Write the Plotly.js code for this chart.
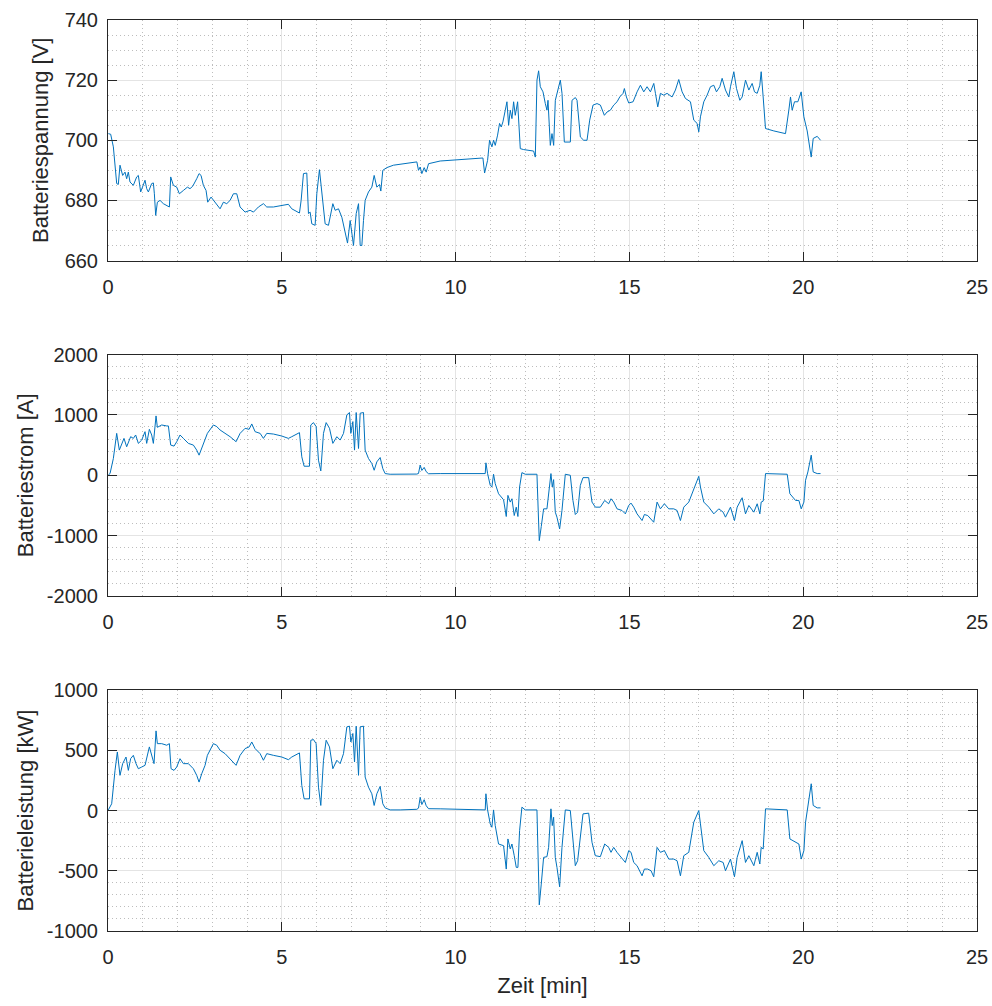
<!DOCTYPE html>
<html>
<head>
<meta charset="utf-8">
<script src="https://cdn.plot.ly/plotly-3.0.1.min.js"></script>
<style>
html,body{margin:0;padding:0;background:#fff;}
#chart{width:992px;height:1006px;}
</style>
</head>
<body>
<div id="chart"></div>
<script>
// ---------- Data ----------
const tV = [0.01,0.077,0.154,0.25,0.297,0.345,0.422,0.49,0.537,0.585,0.633,0.729,0.825,0.873,0.94,1.017,1.065,1.113,1.161,1.257,1.305,1.334,1.372,1.42,1.497,1.593,1.689,1.766,1.804,1.881,1.977,2.053,2.169,2.284,2.36,2.437,2.552,2.62,2.677,2.744,2.821,2.869,2.965,3.08,3.224,3.32,3.416,3.512,3.608,3.704,3.8,3.944,4.088,4.184,4.327,4.471,4.567,4.759,4.951,5.19,5.287,5.508,5.556,5.623,5.719,5.767,5.815,5.863,5.959,6.007,6.083,6.151,6.247,6.343,6.391,6.468,6.535,6.631,6.727,6.823,6.89,6.967,7.015,7.063,7.14,7.207,7.255,7.303,7.35,7.398,7.494,7.59,7.657,7.734,7.81,7.849,7.906,8.021,8.213,8.386,8.885,8.933,8.981,9.029,9.096,9.154,9.222,9.557,10.325,10.786,10.834,10.92,10.977,11.045,11.093,11.141,11.208,11.265,11.313,11.361,11.429,11.477,11.525,11.573,11.621,11.669,11.717,11.784,11.861,11.957,12.245,12.293,12.341,12.389,12.437,12.514,12.581,12.629,12.658,12.725,12.773,12.821,12.869,12.965,13.013,13.061,13.128,13.301,13.349,13.445,13.493,13.589,13.685,13.781,13.858,13.954,14.069,14.165,14.28,14.357,14.453,14.549,14.645,14.722,14.818,14.856,14.914,14.981,15.106,15.221,15.317,15.413,15.509,15.605,15.701,15.749,15.816,15.892,15.988,16.084,16.228,16.324,16.42,16.516,16.612,16.756,16.852,16.948,16.996,17.044,17.14,17.236,17.332,17.428,17.505,17.601,17.668,17.764,17.86,17.908,18.004,18.081,18.177,18.244,18.34,18.436,18.532,18.599,18.676,18.752,18.791,18.848,18.915,19.155,19.491,19.587,19.635,19.683,19.75,19.846,19.942,20.019,20.115,20.23,20.288,20.403,20.499];
const voltage = [702.2,702.0,697.8,685.6,685.3,691.7,688.3,689.4,687.2,689.4,686.1,685.0,687.8,688.3,682.8,685.6,686.7,683.9,682.8,685.6,685.8,682.2,675.0,679.4,680.0,678.9,678.3,677.8,687.8,685.0,684.4,682.2,683.3,684.4,683.9,684.7,687.2,688.9,688.3,685.0,683.3,679.4,681.1,679.4,677.2,679.4,678.9,680.0,682.2,682.2,677.8,676.1,676.7,676.1,677.8,678.9,677.8,677.8,678.1,678.7,677.2,675.8,680.0,688.9,689.1,675.6,676.1,672.2,671.7,682.2,690.2,682.2,672.2,671.7,674.4,678.9,676.7,677.2,674.4,668.9,665.8,673.3,668.9,665.0,675.6,678.9,665.0,665.0,673.3,680.0,682.8,684.4,688.3,684.4,685.3,683.1,690.0,690.9,691.7,692.0,692.8,690.0,691.1,688.9,690.9,689.4,692.2,693.1,693.7,694.1,689.1,693.3,700.0,697.8,700.0,698.3,701.7,705.6,704.4,706.1,710.0,712.8,705.0,710.0,707.2,712.8,708.3,712.8,697.2,696.9,696.4,694.4,720.0,723.1,717.8,716.1,712.2,710.0,713.3,698.3,702.2,698.3,713.3,717.8,720.0,715.6,699.4,699.4,713.3,714.2,713.3,701.1,700.0,700.0,706.7,711.7,712.2,711.7,708.3,709.4,710.0,711.7,712.8,714.4,715.6,717.2,714.4,712.4,712.8,716.1,718.3,716.1,717.8,716.1,718.9,715.6,711.1,715.6,715.0,715.6,714.4,716.7,720.2,716.1,713.9,712.8,706.7,705.6,702.8,707.8,712.8,715.0,717.8,718.3,716.1,717.8,720.6,716.7,714.4,717.8,722.8,717.2,713.3,714.4,720.0,716.7,718.9,716.1,715.6,718.3,722.8,714.4,703.9,703.1,702.2,710.0,714.4,710.0,712.8,712.8,716.1,707.8,703.1,694.4,700.6,701.3,700.0];

const tI = [0.01,0.058,0.154,0.25,0.326,0.393,0.46,0.537,0.585,0.652,0.729,0.796,0.873,0.969,1.065,1.113,1.19,1.257,1.305,1.382,1.42,1.545,1.689,1.737,1.804,1.9,1.977,2.072,2.169,2.312,2.456,2.552,2.62,2.696,2.792,2.859,3.032,3.128,3.224,3.368,3.512,3.685,3.8,3.944,4.059,4.136,4.232,4.376,4.471,4.567,4.759,4.999,5.19,5.287,5.508,5.575,5.642,5.796,5.834,5.911,5.988,6.055,6.122,6.199,6.276,6.372,6.468,6.583,6.679,6.775,6.871,6.947,6.986,7.044,7.092,7.14,7.207,7.255,7.35,7.398,7.494,7.59,7.657,7.734,7.83,7.906,7.973,8.117,8.405,8.885,8.933,8.981,9.029,9.096,9.154,9.222,9.557,10.852,10.872,10.92,10.996,11.044,11.092,11.14,11.236,11.38,11.457,11.505,11.572,11.62,11.687,11.745,11.793,11.841,11.908,12.004,12.34,12.388,12.407,12.464,12.532,12.628,12.676,12.743,12.781,12.82,12.868,12.916,12.993,13.06,13.156,13.3,13.376,13.444,13.511,13.588,13.665,13.828,13.924,14.02,14.164,14.289,14.404,14.471,14.548,14.644,14.788,14.884,14.98,15.047,15.124,15.22,15.364,15.431,15.527,15.623,15.7,15.796,15.892,16.007,16.132,16.276,16.372,16.468,16.564,16.708,16.852,16.996,17.044,17.14,17.284,17.428,17.572,17.697,17.764,17.908,18.023,18.1,18.244,18.34,18.436,18.58,18.676,18.753,18.791,18.849,18.916,19.54,19.617,19.78,19.876,19.943,20.02,20.068,20.135,20.231,20.288,20.403,20.499];
const current = [5,28,278,694,417,528,611,472,556,639,611,667,528,583,722,528,761,667,528,983,794,833,817,817,500,483,556,667,611,528,500,417,333,444,583,694,833,806,750,694,639,556,694,778,761,850,722,694,611,694,683,650,611,639,706,306,150,150,833,872,806,250,72,694,872,778,528,639,583,694,1000,1039,694,889,417,1039,444,1028,1039,417,278,194,83,222,294,111,28,17,17,20,30,170,80,130,60,25,28,28,206,28,-167,-194,17,-139,-306,-406,-683,-333,-444,-389,-667,-528,-683,-194,44,17,17,-872,-1083,-850,-556,-556,-306,28,-194,-72,-611,-694,-889,-583,17,0,-417,-650,-611,-167,-39,-39,-444,-528,-528,-417,-472,-389,-444,-556,-583,-639,-500,-461,-528,-639,-750,-650,-667,-722,-778,-444,-556,-472,-556,-556,-583,-750,-528,-444,-222,-17,-194,-444,-528,-639,-556,-611,-694,-528,-750,-528,-372,-639,-500,-611,-472,-639,-444,-428,28,17,-306,-417,-417,-556,-444,-83,55,333,55,28,28];

const tP = [0.01,0.106,0.202,0.269,0.345,0.422,0.518,0.585,0.652,0.729,0.806,0.873,0.969,1.065,1.19,1.257,1.324,1.382,1.42,1.545,1.689,1.766,1.814,1.9,1.977,2.072,2.169,2.312,2.456,2.552,2.62,2.696,2.792,2.859,3.032,3.128,3.224,3.368,3.512,3.685,3.8,3.944,4.059,4.136,4.232,4.376,4.471,4.567,4.759,4.999,5.19,5.287,5.508,5.575,5.642,5.796,5.834,5.911,5.988,6.055,6.122,6.199,6.276,6.372,6.468,6.583,6.679,6.775,6.871,6.947,6.986,7.044,7.092,7.14,7.207,7.255,7.35,7.398,7.494,7.59,7.657,7.734,7.83,7.906,7.973,8.117,8.405,8.885,8.933,8.981,9.029,9.096,9.154,9.222,9.557,10.852,10.872,10.92,10.996,11.044,11.092,11.14,11.236,11.38,11.457,11.505,11.572,11.62,11.687,11.745,11.793,11.841,11.908,12.004,12.34,12.388,12.407,12.464,12.532,12.628,12.676,12.743,12.781,12.82,12.868,12.916,12.993,13.06,13.156,13.3,13.376,13.444,13.511,13.588,13.665,13.828,13.924,14.02,14.164,14.289,14.404,14.471,14.548,14.644,14.788,14.884,14.98,15.047,15.124,15.22,15.364,15.431,15.527,15.623,15.7,15.796,15.892,16.007,16.132,16.276,16.372,16.468,16.564,16.708,16.852,16.996,17.044,17.14,17.284,17.428,17.572,17.697,17.764,17.908,18.023,18.1,18.244,18.34,18.436,18.58,18.676,18.753,18.791,18.849,18.916,19.54,19.617,19.78,19.876,19.943,20.02,20.068,20.135,20.231,20.288,20.403,20.499];
const power = [5,56,333,486,292,389,444,333,431,458,389,347,361,375,528,458,389,661,555,555,542,555,347,333,361,430,389,389,347,292,236,305,375,458,555,542,500,472,430,375,458,514,528,569,514,472,417,472,458,444,422,444,478,208,97,97,583,589,555,194,42,417,583,528,347,417,389,472,694,700,569,639,403,700,292,694,700,278,194,139,42,139,200,56,22,5,5,10,20,110,50,90,40,15,14,5,139,5,-111,-139,5,-125,-278,-292,-486,-236,-319,-278,-375,-472,-472,-167,28,5,5,-611,-783,-611,-389,-383,-306,14,-125,-56,-389,-472,-633,-306,5,0,-222,-458,-417,-194,-28,-22,-264,-375,-383,-278,-306,-347,-306,-347,-403,-431,-333,-347,-431,-458,-542,-486,-486,-500,-550,-306,-347,-333,-403,-403,-417,-542,-375,-347,-97,0,-111,-333,-389,-458,-417,-431,-500,-403,-550,-389,-250,-431,-375,-458,-347,-444,-306,-319,14,5,-236,-264,-278,-403,-333,-97,28,222,42,22,22];

const xTicks = [0,5,10,15,20,25];
const vTicks = [660,680,700,720,740];
const iTicks = [-2000,-1000,0,1000,2000];
const iTickText = ['-2000','-1000','0','1000','2000'];
const pTicks = [-1000,-500,0,500,1000];
const pTickText = ['-1000','-500','0','500','1000'];

const yTitles = ['Batteriespannung [V]','Batteriestrom [A]','Batterieleistung [kW]'];
const xTitle = 'Zeit [min]';

// ---------- Styling ----------
const FONT = 'Liberation Sans, Arial, Helvetica, sans-serif';
const INK = '#262626';
const LINE = '#0072BD';
const TICKSIZE = 20;
const TITLESIZE = 22;
const MAJORGRID = '#e4e4e4';
const MINORGRID = '#bdbdbd';

function xAx(anchor, showTitle){
  const a = {
    anchor: anchor, range:[0,25], tickvals: xTicks, ticktext: xTicks.map(String),
    ticks:'inside', ticklen:9, tickwidth:1, tickcolor:INK,
    showline:true, linecolor:INK, linewidth:1, mirror:'ticks',
    showgrid:true, gridcolor:MAJORGRID, gridwidth:1, zeroline:false,
    minor:{dtick:1, showgrid:true, gridcolor:MINORGRID, griddash:'1px,3px', gridwidth:1, ticks:''},
    tickfont:{family:FONT, size:TICKSIZE, color:INK}, ticklabelstandoff:8, fixedrange:true
  };
  if(showTitle){ a.title = {text:xTitle, font:{family:FONT, size:TITLESIZE, color:INK}, standoff:10}; }
  return a;
}
function yAx(anchor, domain, range, tv, tt, minorD, title, standoff){
  return {
    anchor: anchor, domain: domain, range: range, tickvals: tv, ticktext: tt,
    ticks:'inside', ticklen:9, tickwidth:1, tickcolor:INK,
    showline:true, linecolor:INK, linewidth:1, mirror:'ticks',
    showgrid:true, gridcolor:MAJORGRID, gridwidth:1, zeroline:false,
    minor:{dtick:minorD, showgrid:true, gridcolor:MINORGRID, griddash:'1px,3px', gridwidth:1, ticks:''},
    tickfont:{family:FONT, size:TICKSIZE, color:INK}, ticklabelstandoff:5,
    title:{text:title, font:{family:FONT, size:TITLESIZE, color:INK}, standoff:standoff},
    fixedrange:true
  };
}

const traces = [
  {x:tV, y:voltage, xaxis:'x', yaxis:'y', type:'scatter', mode:'lines', line:{color:LINE, width:1}, hoverinfo:'skip'},
  {x:tI, y:current, xaxis:'x2', yaxis:'y2', type:'scatter', mode:'lines', line:{color:LINE, width:1}, hoverinfo:'skip'},
  {x:tP, y:power, xaxis:'x3', yaxis:'y3', type:'scatter', mode:'lines', line:{color:LINE, width:1}, hoverinfo:'skip'}
];

const layout = {
  width:992, height:1006,
  margin:{l:108, r:15, t:20, b:75},
  paper_bgcolor:'#ffffff', plot_bgcolor:'#ffffff',
  showlegend:false,
  font:{family:FONT, color:INK},
  xaxis: xAx('y', false),
  xaxis2: xAx('y2', false),
  xaxis3: xAx('y3', true),
  yaxis: yAx('x', [0.736,1], [660,740], vTicks, vTicks.map(String), 5, yTitles[0], 9),
  yaxis2: yAx('x2', [0.3677,0.6328], [-2000,2000], iTicks, iTickText, 200, yTitles[1], 7),
  yaxis3: yAx('x3', [0,0.2645], [-1000,1000], pTicks, pTickText, 100, yTitles[2], 7)
};

Plotly.newPlot('chart', traces, layout, {staticPlot:true, displayModeBar:false});
</script>
</body>
</html>
